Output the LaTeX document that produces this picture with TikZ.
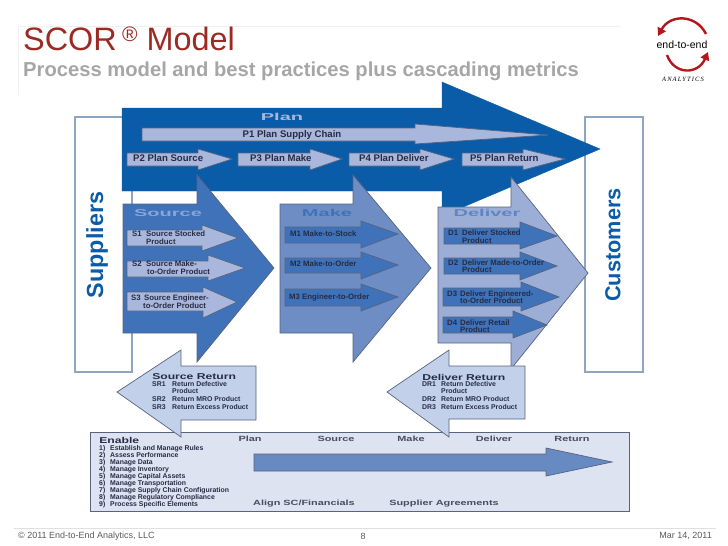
\documentclass[tikz,border=0pt]{standalone}
\usepackage{fontspec}
\setmainfont{Liberation Sans}
\newfontfamily\logoserif{Liberation Serif}
\usetikzlibrary{arrows.meta}

\definecolor{planblue}{HTML}{0B5CA8}
\definecolor{sourceblue}{HTML}{3F72B8}
\definecolor{sourcehead}{HTML}{86A6DC}
\definecolor{makeblue}{HTML}{6D8DC4}
\definecolor{deliverblue}{HTML}{9DAED6}
\definecolor{deliverhead}{HTML}{5F84C4}
\definecolor{subpale}{HTML}{A9B7DC}
\definecolor{returnpale}{HTML}{C3D0EA}
\definecolor{enablepale}{HTML}{DDE3F1}
\definecolor{edgegray}{HTML}{56647F}
\definecolor{boxgray}{HTML}{8FA6C0}
\definecolor{inktxt}{HTML}{262C45}
\definecolor{titlered}{HTML}{9C2A22}
\definecolor{logored}{HTML}{B5161C}

\tikzset{
  blockarrow/.style={draw=edgegray,line width=0.7pt,line join=miter},
  sublabel/.style={anchor=west,inner sep=0pt,text=inktxt,text height=5.5pt,text depth=1.4pt,font=\fontsize{7.8}{8}\bfseries\selectfont},
  planlabel/.style={sublabel,font=\fontsize{9.6}{10}\bfseries\selectfont},
  listlabel/.style={sublabel,text height=5pt,text depth=1.4pt,font=\fontsize{6.9}{7}\bfseries\selectfont},
  widelabel/.style={anchor=center,inner sep=0pt,text=inktxt!85,xscale=1.45,transform shape,font=\fontsize{7.5}{8}\bfseries\selectfont},
  headlabel/.style={anchor=center,inner sep=0pt,xscale=2,transform shape,font=\fontsize{10}{10}\bfseries\selectfont},
  titlelabel/.style={anchor=west,inner sep=0pt,text=inktxt,xscale=1.43,transform shape,font=\fontsize{8.5}{9}\bfseries\selectfont},
  sidelabel/.style={inner sep=0pt,text=planblue,rotate=90,font=\bfseries},
  footlabel/.style={inner sep=0pt,text=black!65,font=\fontsize{9}{10}\selectfont},
}

\begin{document}
\begin{tikzpicture}[x=1pt,y=-1pt]
\useasboundingbox (0,0) rectangle (728,546);

% header
\draw[black!6] (18,95) -- (18,26) -- (620,26);
\node[anchor=base west,inner sep=0pt,text=titlered,font=\fontsize{32.4}{33}\selectfont] (title) at (23,50)
   {SCOR\,\raisebox{9pt}{\fontsize{21}{21}\selectfont ®} Model};
\node[anchor=base west,inner sep=0pt,text=black!35,font=\fontsize{20.2}{21}\bfseries\selectfont] (subtitle) at (23,76)
   {Process model and best practices plus cascading metrics};

% logo
\draw[logored,line width=2.4pt,-{Triangle[length=8pt,width=9pt]}] (706,34) .. controls (696,14) and (670,14) .. (658,36);
\draw[logored,line width=2.4pt,-{Triangle[length=8pt,width=9pt]}] (667,55) .. controls (674,75) and (698,75) .. (708,52);
\node[inner sep=0pt,font=\fontsize{10.5}{11}\selectfont] (logotxt) at (682,45) {end-to-end};
\node[inner sep=0pt,font=\logoserif\itshape\fontsize{6.5}{7}\selectfont] (logosub) at (683,79) {A\,N\,A\,L\,Y\,T\,I\,C\,S};

% side boxes
\draw[boxgray,line width=1.3pt] (75,117) rectangle (132,372);
\draw[boxgray,line width=1.3pt] (585,117) rectangle (643,372);
\node[sidelabel,font=\fontsize{23.3}{24}\bfseries\selectfont] (suppliers) at (97,245) {Suppliers};
\node[sidelabel,font=\fontsize{21.7}{22}\bfseries\selectfont] (customers) at (613,245) {Customers};

% plan
\draw[fill=planblue,draw=planblue] (122,108) -- (442,108) -- (442,82) -- (600,149) -- (442,216) -- (442,191) -- (122,191) -- cycle;
\node[headlabel,text=subpale] (plan) at (282,117) {Plan};
\draw[blockarrow,fill=subpale] (142,128) -- (415,128) -- (415,124) -- (548,135) -- (415,144) -- (415,141) -- (142,141) -- cycle;
\draw[blockarrow,fill=subpale] (127,153) -- (198,153) -- (198,149) -- (232,159) -- (198,170) -- (198,166) -- (127,166) -- cycle;
\draw[blockarrow,fill=subpale] (238,153) -- (310,153) -- (310,149) -- (342,159) -- (310,170) -- (310,166) -- (238,166) -- cycle;
\draw[blockarrow,fill=subpale] (349,153) -- (420,153) -- (420,149) -- (454,159) -- (420,170) -- (420,166) -- (349,166) -- cycle;
\draw[blockarrow,fill=subpale] (462,153) -- (523,153) -- (523,149) -- (565,159) -- (523,170) -- (523,166) -- (462,166) -- cycle;
\node[planlabel,anchor=center] (p1) at (292,135) {P1 Plan Supply Chain};
\node[planlabel] (p2) at (133,159) {P2 Plan Source};
\node[planlabel] (p3) at (250,159) {P3 Plan Make};
\node[planlabel] (p4) at (359,159) {P4 Plan Deliver};
\node[planlabel] (p5) at (470,159) {P5 Plan Return};

% source
\draw[blockarrow,fill=sourceblue] (123,204) -- (197,204) -- (197,175) -- (274,268) -- (197,362) -- (197,333) -- (123,333) -- cycle;
\node[headlabel,text=sourcehead] (source) at (168,213) {Source};
\draw[blockarrow,fill=subpale] (127,230) -- (202,230) -- (202,225) -- (238,238) -- (202,251) -- (202,246) -- (127,246) -- cycle;
\draw[blockarrow,fill=subpale] (127,261) -- (208,261) -- (208,255) -- (245,268) -- (208,281) -- (208,277) -- (127,277) -- cycle;
\draw[blockarrow,fill=subpale] (127,292) -- (203,292) -- (203,287) -- (237,302) -- (203,318) -- (203,311) -- (127,311) -- cycle;
\node[sublabel] (s1) at (132,234) {S1};
\node[sublabel] (s1a) at (146,234) {Source Stocked};
\node[sublabel] (s1b) at (146,242) {Product};
\node[sublabel] (s2) at (132,264) {S2};
\node[sublabel] (s2a) at (146,264) {Source Make-};
\node[sublabel] (s2b) at (147,272) {to-Order Product};
\node[sublabel] (s3) at (131,298) {S3};
\node[sublabel] (s3a) at (144,298) {Source Engineer-};
\node[sublabel] (s3b) at (143,306) {to-Order Product};

% make
\draw[blockarrow,fill=makeblue] (280,204) -- (353,204) -- (353,175) -- (431,268) -- (353,362) -- (353,333) -- (280,333) -- cycle;
\node[headlabel,text=sourceblue] (make) at (327,213) {Make};
\draw[blockarrow,fill=sourceblue] (285,227) -- (361,227) -- (361,221) -- (398,234) -- (361,248) -- (361,243) -- (285,243) -- cycle;
\draw[blockarrow,fill=sourceblue] (285,258) -- (361,258) -- (361,252) -- (398,265) -- (361,279) -- (361,273) -- (285,273) -- cycle;
\draw[blockarrow,fill=sourceblue] (285,289) -- (361,289) -- (361,284) -- (398,297) -- (361,311) -- (361,306) -- (285,306) -- cycle;
\node[sublabel] (m1) at (290,234) {M1 Make-to-Stock};
\node[sublabel] (m2) at (290,264) {M2 Make-to-Order};
\node[sublabel] (m3) at (289,297) {M3 Engineer-to-Order};

% deliver
\draw[blockarrow,fill=deliverblue] (438,207) -- (511,207) -- (511,177) -- (588,273) -- (511,369) -- (511,343) -- (438,343) -- cycle;
\node[headlabel,text=deliverhead] (deliver) at (487,213) {Deliver};
\draw[blockarrow,fill=sourceblue] (444,228) -- (520,228) -- (520,222) -- (557,236) -- (520,249) -- (520,244) -- (444,244) -- cycle;
\draw[blockarrow,fill=sourceblue] (444,258) -- (520,258) -- (520,252) -- (557,266) -- (520,280) -- (520,274) -- (444,274) -- cycle;
\draw[blockarrow,fill=sourceblue] (443,288) -- (521,288) -- (521,282) -- (559,297) -- (521,311) -- (521,306) -- (443,306) -- cycle;
\draw[blockarrow,fill=sourceblue] (443,317) -- (513,317) -- (513,311) -- (547,325) -- (513,338) -- (513,333) -- (443,333) -- cycle;
\node[sublabel] (d1) at (448,233) {D1};
\node[sublabel] (d1a) at (462,233) {Deliver Stocked};
\node[sublabel] (d1b) at (462,241) {Product};
\node[sublabel] (d2) at (448,263) {D2};
\node[sublabel] (d2a) at (462,263) {Deliver Made-to-Order};
\node[sublabel] (d2b) at (462,270.5) {Product};
\node[sublabel] (d3) at (447,294) {D3};
\node[sublabel] (d3a) at (460,294) {Deliver Engineered-};
\node[sublabel] (d3b) at (460,301.5) {to-Order Product};
\node[sublabel] (d4) at (447,323) {D4};
\node[sublabel] (d4a) at (460,323) {Deliver Retail};
\node[sublabel] (d4b) at (460,330.5) {Product};

% enable
\draw[blockarrow,fill=enablepale] (90,432) rectangle (629,511);
\draw[blockarrow,fill=makeblue!90!sourceblue] (254,454) -- (546,454) -- (546,448) -- (612,462) -- (546,476) -- (546,471) -- (254,471) -- cycle;
\node[titlelabel] (enable) at (99,440) {Enable};
\node[widelabel] (eplan) at (250,439) {Plan};
\node[widelabel] (esource) at (336,439) {Source};
\node[widelabel] (emake) at (411,439) {Make};
\node[widelabel] (edeliver) at (494,439) {Deliver};
\node[widelabel] (ereturn) at (572,439) {Return};
\node[widelabel] (ealign) at (304,504) {Align SC/Financials};
\node[widelabel] (esupplier) at (444,504) {Supplier Agreements};
\foreach \n/\y/\txt in {1/449/Establish and Manage Rules,2/455.9/Assess Performance,3/462.8/Manage Data,
    4/469.7/Manage Inventory,5/476.6/Manage Capital Assets,6/483.5/Manage Transportation,
    7/490.4/Manage Supply Chain Configuration,8/497.3/Manage Regulatory Compliance,9/504.2/Process Specific Elements}{
  \node[listlabel] (en\n) at (99,\y) {\n)};
  \node[listlabel] (et\n) at (110,\y) {\txt};
}

% returns
\draw[blockarrow,fill=returnpale] (256,366) -- (181,366) -- (181,350) -- (117,392) -- (181,437) -- (181,420) -- (256,420) -- cycle;
\node[titlelabel] (sr) at (152,377) {Source Return};
\node[listlabel] (sr1) at (152,385) {SR1};
\node[listlabel] (sr1a) at (172,385) {Return Defective};
\node[listlabel] (sr1b) at (172,392) {Product};
\node[listlabel] (sr2) at (152,400) {SR2};
\node[listlabel] (sr2a) at (172,400) {Return MRO Product};
\node[listlabel] (sr3) at (152,408) {SR3};
\node[listlabel] (sr3a) at (172,408) {Return Excess Product};
\draw[blockarrow,fill=returnpale] (525,366) -- (449,366) -- (449,350) -- (387,392) -- (449,437) -- (449,419) -- (525,419) -- cycle;
\node[titlelabel] (dr) at (422,377) {Deliver Return};
\node[listlabel] (dr1) at (422,385) {DR1};
\node[listlabel] (dr1a) at (441,385) {Return Defective};
\node[listlabel] (dr1b) at (441,392) {Product};
\node[listlabel] (dr2) at (422,400) {DR2};
\node[listlabel] (dr2a) at (441,400) {Return MRO Product};
\node[listlabel] (dr3) at (422,408) {DR3};
\node[listlabel] (dr3a) at (441,408) {Return Excess Product};

% footer
\draw[black!12] (14,528) -- (716,528);
\node[footlabel,anchor=west] (copyright) at (18,536) {© 2011 End-to-End Analytics, LLC};
\node[footlabel] (pageno) at (363,536) {8};
\node[footlabel,anchor=east] (date) at (712,536) {Mar 14, 2011};
\end{tikzpicture}
\end{document}
